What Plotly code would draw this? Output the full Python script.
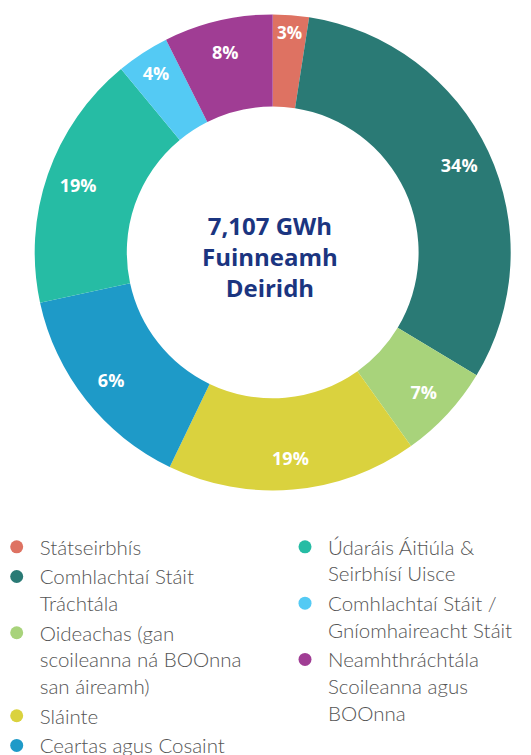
import plotly.graph_objects as go

# Sectors, in clockwise order from 12 o'clock
categories = [
    "Státseirbhís",
    "Comhlachtaí Stáit<br>Tráchtála",
    "Oideachas (gan<br>scoileanna ná BOOnna<br>san áireamh)",
    "Sláinte",
    "Ceartas agus Cosaint",
    "Údaráis Áitiúla &<br>Seirbhísí Uisce",
    "Comhlachtaí Stáit /<br>Gníomhaireacht Stáit",
    "Neamhthráchtála<br>Scoileanna agus<br>BOOnna",
]
# share of the ring as drawn (%)
slice_share = [2.45, 31.2, 6.5, 17.0, 14.5, 17.4, 3.6, 7.4]
# printed labels
printed_pct = ["3%", "34%", "7%", "19%", "6%", "19%", "4%", "8%"]
legend_group = ["legend"] * 5 + ["legend2"] * 3
colors = ["#DE7262", "#2A7A75", "#A8D37B", "#DAD23E",
          "#1E9AC8", "#26BCA4", "#54CAF4", "#A03D94"]
center_text = "7,107 GWh<br>Fuinneamh<br>Deiridh"

W, H = 531, 755
OFF = 8  # page body margin
cx, cy, R = 272.7 - OFF, 252.4 - OFF, 238
hole = 0.613
dom_x = [(cx - R) / W, (cx + R) / W]
dom_y = [(H - cy - R) / H, (H - cy + R) / H]

fig = go.Figure()
# coloured ring
fig.add_trace(go.Pie(
    values=slice_share, labels=categories, sort=False, direction="clockwise",
    rotation=0, hole=hole, domain=dict(x=dom_x, y=dom_y),
    marker=dict(colors=colors, line=dict(width=0)),
    textinfo="none", showlegend=False, hoverinfo="skip",
))
# label ring (transparent) so the percentages sit in the outer part of the ring
fig.add_trace(go.Pie(
    values=slice_share, labels=categories, sort=False, direction="clockwise",
    rotation=0, hole=0.73, domain=dict(x=dom_x, y=dom_y),
    marker=dict(colors=["rgba(0,0,0,0)"] * len(colors), line=dict(width=0)),
    text=printed_pct, textinfo="text", textposition="inside",
    insidetextorientation="horizontal",
    textfont=dict(family="Open Sans", size=18, color="white", weight="bold"),
    showlegend=False, hoverinfo="skip",
))

for name, col, lg in zip(categories, colors, legend_group):
    fig.add_trace(go.Scatter(
        x=[None], y=[None], mode="markers", name=name, legend=lg,
        marker=dict(color=col, size=13, symbol="circle"),
    ))

legend_font = dict(family="Lato", size=20.5, color="#555555", weight=300)
fig.update_layout(
    width=W, height=H, margin=dict(l=0, r=0, t=0, b=0, autoexpand=False),
    paper_bgcolor="white", plot_bgcolor="white",
    xaxis=dict(visible=False), yaxis=dict(visible=False),
    legend=dict(x=-14.3 / W, y=(H - 519) / H, xanchor="left", yanchor="top",
                itemwidth=36, font=legend_font, bgcolor="rgba(0,0,0,0)",
                valign="top", tracegroupgap=0),
    legend2=dict(x=274 / W, y=(H - 519) / H, xanchor="left", yanchor="top",
                 itemwidth=36, font=legend_font, bgcolor="rgba(0,0,0,0)",
                 valign="top", tracegroupgap=0),
    annotations=[dict(
        text=center_text, x=(270 - OFF) / W, y=(H - (257 - OFF)) / H,
        xref="paper", yref="paper",
        showarrow=False, xanchor="center", yanchor="middle",
        font=dict(family="Open Sans", size=24, color="#1B3580", weight="bold"),
    )],
)

fig.write_html("out.html")
